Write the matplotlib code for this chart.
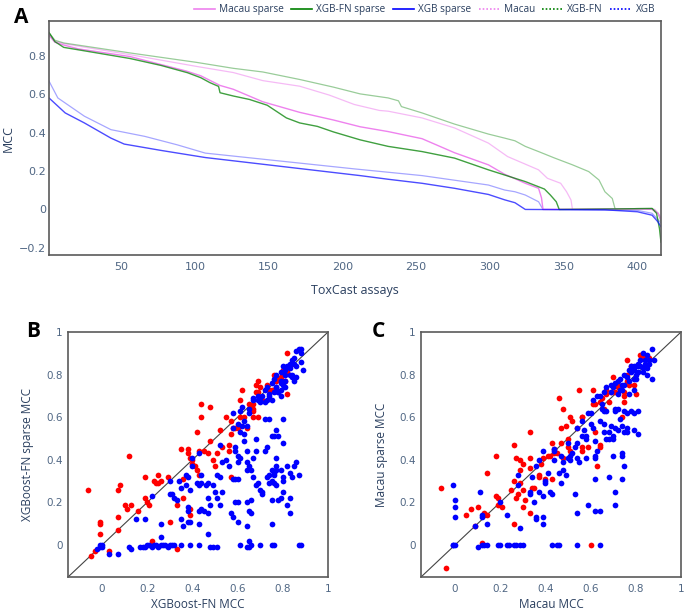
import matplotlib
matplotlib.use("Agg")
import matplotlib.pyplot as plt
from matplotlib.lines import Line2D

# ---- panel A: sorted MCC per assay (rank, value) ----
macau_sp_x = [1, 5, 11, 21, 56, 94, 104, 117, 126, 146, 171, 194, 212, 231, 254, 276, 299, 310, 317, 324, 333, 335, 336, 380, 405, 410, 414, 416]
macau_sp_y = [0.905, 0.87, 0.855, 0.835, 0.795, 0.72, 0.695, 0.645, 0.625, 0.56, 0.505, 0.465, 0.43, 0.405, 0.368, 0.295, 0.232, 0.183, 0.16, 0.136, 0.11, 0.06, 0.0, 0.002, 0.002, 0.0, -0.02, -0.05]

xgbfn_sp_x = [1, 5, 11, 32, 56, 77, 95, 104, 110, 116, 117, 126, 137, 149, 162, 171, 183, 194, 212, 231, 254, 276, 299, 317, 324, 337, 341, 345, 347, 400, 410, 413, 415, 416]
xgbfn_sp_y = [0.92, 0.873, 0.843, 0.816, 0.785, 0.749, 0.711, 0.685, 0.66, 0.64, 0.607, 0.59, 0.572, 0.542, 0.476, 0.45, 0.432, 0.403, 0.362, 0.328, 0.301, 0.267, 0.206, 0.162, 0.145, 0.106, 0.075, 0.04, 0.0, 0.004, 0.005, -0.02, -0.1, -0.17]

xgb_sp_x = [1, 12, 25, 43, 52, 77, 107, 212, 231, 254, 276, 299, 310, 317, 324, 378, 400, 410, 414, 416]
xgb_sp_y = [0.58, 0.502, 0.45, 0.371, 0.34, 0.307, 0.27, 0.176, 0.157, 0.136, 0.11, 0.078, 0.05, 0.035, 0.0, -0.002, -0.012, -0.03, -0.065, -0.09]

macau_x = [1, 5, 11, 56, 101, 126, 146, 171, 191, 208, 225, 231, 254, 276, 299, 312, 333, 339, 348, 352, 355, 356, 405, 412, 416]
macau_y = [0.91, 0.875, 0.862, 0.805, 0.744, 0.712, 0.67, 0.641, 0.595, 0.546, 0.515, 0.511, 0.476, 0.424, 0.345, 0.275, 0.206, 0.162, 0.136, 0.092, 0.049, 0.0, 0.003, 0.0, -0.04]

xgbfn_x = [1, 5, 11, 56, 101, 126, 146, 171, 194, 212, 231, 238, 240, 254, 276, 299, 310, 317, 324, 333, 344, 356, 367, 374, 378, 383, 385, 400, 410, 414, 416]
xgbfn_y = [0.92, 0.88, 0.866, 0.814, 0.765, 0.734, 0.715, 0.676, 0.636, 0.601, 0.58, 0.565, 0.535, 0.502, 0.444, 0.392, 0.371, 0.357, 0.328, 0.301, 0.267, 0.232, 0.197, 0.153, 0.092, 0.057, 0.0, 0.005, 0.005, -0.02, -0.06]

xgb_x = [1, 7, 25, 43, 66, 88, 107, 208, 254, 299, 310, 317, 324, 333, 336, 400, 410, 416]
xgb_y = [0.668, 0.58, 0.485, 0.415, 0.38, 0.336, 0.293, 0.211, 0.176, 0.127, 0.101, 0.092, 0.075, 0.04, 0.0, -0.005, -0.02, -0.07]

# ---- panel B: XGBoost-FN vs XGBoost-FN sparse ----
b_red_x = [-0.06, -0.01, -0.01, -0.01, -0.05, -0.03, 0.03, 0.07, 0.07, 0.07, 0.08, 0.10, 0.11, 0.13, 0.12, 0.16, 0.19, 0.19, 0.20, 0.21, 0.23, 0.24, 0.25, 0.26, 0.25, 0.22, 0.29, 0.30, 0.33, 0.33, 0.35, 0.36, 0.36, 0.38, 0.38, 0.39, 0.39, 0.39, 0.40, 0.40, 0.41, 0.42, 0.43, 0.42, 0.44, 0.44, 0.43, 0.45, 0.47, 0.48, 0.48, 0.49, 0.50, 0.51, 0.52, 0.53, 0.55, 0.56, 0.56, 0.57, 0.57, 0.57, 0.58, 0.59, 0.60, 0.61, 0.61, 0.63, 0.64, 0.62, 0.61, 0.65, 0.66, 0.67, 0.67, 0.67, 0.67, 0.69, 0.68, 0.69, 0.70, 0.69, 0.68, 0.71, 0.73, 0.74, 0.75, 0.77, 0.77, 0.80, 0.81, 0.80, 0.79, 0.82, 0.82, 0.83, 0.82, 0.78, 0.76]
b_red_y = [0.26, 0.10, 0.11, 0.05, -0.05, -0.03, -0.03, 0.07, 0.13, 0.26, 0.28, 0.19, 0.17, 0.19, 0.42, 0.16, 0.32, 0.22, 0.20, 0.19, 0.30, 0.29, 0.33, 0.30, 0.29, 0.02, 0.32, 0.11, 0.19, -0.02, 0.45, 0.31, 0.22, 0.45, 0.43, 0.14, 0.17, 0.41, 0.40, 0.38, 0.37, 0.35, 0.33, 0.53, 0.66, 0.60, 0.44, 0.44, 0.43, 0.65, 0.49, 0.40, 0.37, 0.43, 0.54, 0.46, 0.60, 0.47, 0.44, 0.52, 0.32, 0.58, 0.55, 0.55, 0.55, 0.56, 0.60, 0.60, 0.55, 0.73, 0.68, 0.66, 0.65, 0.63, 0.64, 0.66, 0.60, 0.60, 0.75, 0.72, 0.74, 0.77, 0.72, 0.68, 0.75, 0.73, 0.73, 0.73, 0.77, 0.82, 0.77, 0.77, 0.79, 0.90, 0.71, 0.84, 0.81, 0.78, 0.80]

b_blue_x = [-0.02, -0.01, 0.0, 0.0, -0.01, 0.03, 0.07, 0.15, 0.19, 0.12, 0.13,
            0.17, 0.18, 0.19, 0.20, 0.21, 0.22, 0.23, 0.24, 0.25, 0.26, 0.27, 0.28, 0.29, 0.30, 0.31, 0.32, 0.35, 0.39, 0.43, 0.48, 0.49, 0.51, 0.61, 0.64, 0.65, 0.70, 0.75, 0.87,
            0.22, 0.26, 0.26, 0.30, 0.31, 0.30, 0.32, 0.33, 0.34, 0.35, 0.35, 0.36, 0.37, 0.37, 0.38, 0.38, 0.39, 0.38, 0.38, 0.39, 0.40, 0.40, 0.43,
            0.42, 0.43, 0.44, 0.46, 0.47, 0.49, 0.43, 0.44, 0.45, 0.43, 0.47, 0.44, 0.47, 0.47, 0.48, 0.51, 0.52, 0.50, 0.51, 0.52, 0.52, 0.53, 0.53,
            0.56, 0.55, 0.57, 0.58, 0.60, 0.58, 0.59, 0.60, 0.59, 0.59, 0.60, 0.60, 0.61, 0.59, 0.60, 0.58, 0.60, 0.61, 0.62, 0.63, 0.64, 0.63, 0.63,
            0.64, 0.64, 0.65, 0.66, 0.64, 0.64, 0.65, 0.66, 0.66, 0.64, 0.65, 0.66, 0.67, 0.68, 0.68, 0.68, 0.67, 0.69, 0.70, 0.71, 0.71,
            0.72, 0.72, 0.73, 0.73, 0.74, 0.74, 0.75, 0.74, 0.75, 0.75, 0.75, 0.76, 0.76, 0.77, 0.75, 0.76, 0.77, 0.76, 0.77, 0.77, 0.78, 0.77, 0.78,
            0.79, 0.80, 0.80, 0.79, 0.80, 0.80, 0.80, 0.82, 0.83, 0.83, 0.84, 0.82, 0.83, 0.85, 0.86, 0.87, 0.88, 0.76,
            0.58, 0.61, 0.62, 0.65, 0.65, 0.67, 0.69, 0.70, 0.71, 0.72, 0.73, 0.74, 0.75, 0.75, 0.76, 0.77, 0.77, 0.78, 0.79, 0.79, 0.79, 0.80, 0.80,
            0.81, 0.81, 0.82, 0.83, 0.83, 0.83, 0.84, 0.85, 0.85, 0.86, 0.86, 0.87, 0.88, 0.88, 0.89, 0.88, 0.73, 0.74, 0.76, 0.77, 0.81, 0.84, 0.85,
            0.84, 0.86, 0.81, 0.79, 0.78, 0.79, 0.72, 0.70, 0.69, 0.67]
b_blue_y = [-0.02, 0.0, 0.0, -0.01, -0.01, -0.04, -0.04, 0.12, 0.12, -0.01, -0.02,
            -0.01, -0.01, -0.01, 0.0, 0.0, -0.01, 0.0, 0.0, -0.01, 0.0, 0.0, 0.0, -0.01, 0.0, 0.0, 0.0, 0.0, 0.0, 0.0, -0.01, -0.01, -0.01, 0.0, -0.01, -0.01, 0.0, 0.0, 0.0,
            0.23, 0.10, 0.04, 0.24, 0.24, 0.30, 0.22, 0.21, 0.30, 0.27, 0.12, 0.09, 0.33, 0.28, 0.32, 0.11, 0.11, 0.18, 0.16, 0.26, 0.37, 0.41, 0.43,
            0.29, 0.28, 0.29, 0.28, 0.29, 0.28, 0.16, 0.17, 0.16, 0.10, 0.15, 0.33, 0.05, 0.22, 0.19, 0.22, 0.19, 0.25, 0.33, 0.32, 0.47, 0.39, 0.25,
            0.37, 0.40, 0.15, 0.13, 0.11, 0.31, 0.31, 0.31, 0.46, 0.44, 0.42, 0.39, 0.41, 0.20, 0.20, 0.55, 0.57, 0.53, 0.56, 0.58, 0.56, 0.52, 0.49,
            0.44, 0.39, 0.37, 0.35, 0.35, 0.09, 0.02, 0.0, 0.21, 0.20, 0.16, 0.15, 0.32, 0.28, 0.50, 0.44, 0.41, 0.29, 0.26, 0.25, 0.24,
            0.59, 0.44, 0.46, 0.32, 0.33, 0.29, 0.30, 0.59, 0.51, 0.21, 0.10, 0.51, 0.00, 0.37, 0.35, 0.34, 0.35, 0.29, 0.28, 0.54, 0.51, 0.41, 0.21,
            0.22, 0.48, 0.59, 0.35, 0.32, 0.25, 0.30, 0.37, 0.34, 0.22, 0.32, 0.19, 0.15, 0.37, 0.39, 0.33, 0.00, 0.33,
            0.62, 0.63, 0.65, 0.62, 0.64, 0.69, 0.70, 0.68, 0.70, 0.73, 0.74, 0.71, 0.76, 0.68, 0.78, 0.74, 0.80, 0.72, 0.81, 0.77, 0.70, 0.84, 0.75,
            0.82, 0.80, 0.84, 0.83, 0.85, 0.80, 0.87, 0.85, 0.88, 0.84, 0.91, 0.92, 0.92, 0.86, 0.82, 0.90, 0.68, 0.70, 0.72, 0.74, 0.77, 0.80, 0.77,
            0.79, 0.79, 0.74, 0.73, 0.72, 0.76, 0.67, 0.67, 0.68, 0.68]

# ---- panel C: Macau vs Macau sparse ----
c_red_x = [-0.06, -0.04, 0.05, 0.07, 0.09, 0.10, 0.13, 0.13, 0.12, 0.14, 0.14, 0.18, 0.18, 0.19, 0.19, 0.21, 0.26, 0.27, 0.26, 0.25, 0.26, 0.27, 0.29, 0.30, 0.29, 0.29, 0.30, 0.30, 0.28, 0.31, 0.33, 0.33, 0.33, 0.33, 0.34, 0.35, 0.37, 0.37, 0.38, 0.39, 0.40, 0.41, 0.42, 0.43, 0.43, 0.44, 0.44, 0.45, 0.46, 0.47, 0.47, 0.48, 0.48, 0.49, 0.50, 0.50, 0.51, 0.51, 0.52, 0.54, 0.55, 0.56, 0.56, 0.56, 0.56, 0.59, 0.60, 0.61, 0.61, 0.62, 0.62, 0.63, 0.64, 0.64, 0.64, 0.65, 0.66, 0.67, 0.67, 0.68, 0.69, 0.70, 0.71, 0.72, 0.72, 0.74, 0.75, 0.75, 0.75, 0.76, 0.76, 0.76, 0.77, 0.78, 0.79, 0.80, 0.82, 0.83, 0.86]
c_red_y = [0.27, -0.11, 0.14, 0.17, 0.09, 0.18, 0.15, 0.14, 0.01, 0.14, 0.34, 0.42, 0.23, 0.19, 0.22, 0.18, 0.47, 0.41, 0.30, 0.26, 0.10, 0.22, 0.40, 0.38, 0.35, 0.29, 0.26, 0.18, 0.24, 0.21, 0.53, 0.41, 0.36, 0.15, 0.27, 0.27, 0.32, 0.33, 0.38, 0.41, 0.31, 0.42, 0.42, 0.31, 0.48, 0.43, 0.45, 0.43, 0.69, 0.55, 0.48, 0.41, 0.64, 0.56, 0.50, 0.46, 0.44, 0.60, 0.58, 0.55, 0.73, 0.60, 0.60, 0.46, 0.44, 0.46, 0.00, 0.66, 0.73, 0.66, 0.53, 0.37, 0.46, 0.47, 0.67, 0.69, 0.64, 0.73, 0.71, 0.67, 0.72, 0.79, 0.72, 0.75, 0.74, 0.60, 0.67, 0.70, 0.72, 0.77, 0.80, 0.87, 0.75, 0.84, 0.75, 0.71, 0.89, 0.88, 0.88]

c_blue_x = [-0.01, 0.0, 0.0, 0.0, -0.01, -0.01, 0.0, 0.09, 0.10, 0.11, 0.12, 0.12, 0.12, 0.13, 0.14, 0.14, 0.19, 0.20, 0.20, 0.23, 0.23, 0.24, 0.26, 0.27, 0.28, 0.28, 0.29, 0.29, 0.30,
            0.33, 0.33, 0.34, 0.35, 0.36, 0.36, 0.36, 0.37, 0.37, 0.39, 0.39, 0.39, 0.39, 0.40, 0.40, 0.41, 0.42, 0.43, 0.43, 0.44, 0.44, 0.44, 0.45, 0.46, 0.47, 0.46, 0.47, 0.48, 0.48, 0.49, 0.50, 0.50,
            0.51, 0.51, 0.52, 0.53, 0.53, 0.54, 0.54, 0.54, 0.54, 0.54, 0.55, 0.56, 0.56, 0.57, 0.58, 0.58, 0.59, 0.58, 0.59,
            0.60, 0.60, 0.61, 0.62, 0.62, 0.62, 0.63, 0.62, 0.62, 0.64, 0.64, 0.64, 0.65,
            0.65, 0.66, 0.66, 0.66, 0.67, 0.67, 0.68, 0.68, 0.68, 0.69, 0.70, 0.70, 0.70, 0.71, 0.71, 0.71, 0.71,
            0.71, 0.72, 0.72, 0.73, 0.74, 0.74, 0.74, 0.74, 0.75, 0.75, 0.75, 0.76, 0.76, 0.76, 0.78, 0.79, 0.79, 0.81, 0.81,
            0.61, 0.63, 0.64, 0.66, 0.67, 0.69, 0.69, 0.70, 0.71, 0.72, 0.72, 0.73, 0.73, 0.74, 0.74, 0.75, 0.75, 0.76, 0.77, 0.77, 0.78, 0.78, 0.79, 0.79,
            0.79, 0.80, 0.80, 0.81, 0.81, 0.81, 0.82, 0.82, 0.83, 0.83, 0.83, 0.84, 0.84, 0.85, 0.85, 0.85, 0.86, 0.86, 0.87, 0.88, 0.87, 0.79, 0.77, 0.80]
c_blue_y = [0.28, 0.21, 0.18, 0.13, 0.0, 0.0, 0.0, 0.09, -0.01, 0.25, 0.14, 0.13, 0.0, 0.0, 0.10, 0.0, 0.0, 0.20, 0.0, 0.14, 0.0, 0.0, 0.0, 0.0, 0.28, 0.33, 0.08, 0.0, 0.0,
            0.25, 0.24, 0.32, 0.20, 0.37, 0.13, 0.12, 0.40, 0.25, 0.44, 0.23, 0.10, 0.13, 0.30, 0.29, 0.34, 0.25, 0.00, 0.24, 0.45, 0.40, 0.44, 0.00, 0.00, 0.42, 0.34, 0.29, 0.39, 0.35, 0.33, 0.48, 0.41,
            0.40, 0.42, 0.43, 0.24, 0.46, 0.55, 0.15, 0.00, 0.48, 0.41, 0.39, 0.58, 0.51, 0.54, 0.51, 0.41, 0.19, 0.50, 0.62,
            0.62, 0.57, 0.55, 0.16, 0.49, 0.42, 0.44, 0.41, 0.31, 0.16, 0.00, 0.58, 0.64,
            0.66, 0.63, 0.57, 0.53, 0.50, 0.63, 0.32, 0.50, 0.53, 0.56, 0.51, 0.42, 0.50, 0.25, 0.19, 0.64, 0.63,
            0.55, 0.64, 0.54, 0.59, 0.31, 0.43, 0.56, 0.42, 0.53, 0.37, 0.63, 0.55, 0.53, 0.62, 0.63, 0.62, 0.54, 0.52, 0.63,
            0.68, 0.70, 0.70, 0.72, 0.74, 0.75, 0.72, 0.74, 0.76, 0.77, 0.71, 0.78, 0.73, 0.73, 0.75, 0.80, 0.75, 0.79, 0.82, 0.77, 0.84, 0.81, 0.78, 0.84,
            0.82, 0.80, 0.84, 0.85, 0.81, 0.84, 0.87, 0.84, 0.81, 0.90, 0.83, 0.87, 0.85, 0.80, 0.89, 0.83, 0.87, 0.85, 0.92, 0.87, 0.78, 0.73, 0.71, 0.78]

tick_col = "#506784"
title_col = "#2a3f5f"
frame_col = "#5a5a5a"
legend_labels = ["Macau sparse", "XGB-FN sparse", "XGB sparse", "Macau", "XGB-FN", "XGB"]
legend_cols = ["violet", "green", "blue", "violet", "green", "blue"]

plt.rcParams["font.family"] = ["Open Sans", "DejaVu Sans"]

fig = plt.figure(figsize=(6.85, 6.13), dpi=100)


def style_frame(ax, tick_size):
    for sp in ax.spines.values():
        sp.set_color(frame_col)
        sp.set_linewidth(1.2)
    ax.tick_params(length=0, labelcolor=tick_col, labelsize=tick_size)
    for lab in ax.get_xticklabels() + ax.get_yticklabels():
        lab.set_family("DejaVu Sans")


def place_labels(ax, xy_x, xy_y):
    # centre the axis titles on the given axes-fraction points
    ax.xaxis.label.set_va("center")
    ax.yaxis.label.set_va("center")
    ax.xaxis.set_label_coords(*xy_x)
    ax.yaxis.set_label_coords(*xy_y)


# panel A
axA = fig.add_axes([0.0715, 0.584, 0.8934, 0.3817])
axA.plot(macau_x, macau_y, color="violet", lw=0.9, alpha=0.55)
axA.plot(xgbfn_x, xgbfn_y, color="green", lw=0.9, alpha=0.4)
axA.plot(xgb_x, xgb_y, color="blue", lw=0.9, alpha=0.35)
axA.plot(macau_sp_x, macau_sp_y, color="violet", lw=1.0)
axA.plot(xgbfn_sp_x, xgbfn_sp_y, color="green", lw=1.0, alpha=0.75)
axA.plot(xgb_sp_x, xgb_sp_y, color="blue", lw=1.0, alpha=0.7)
axA.set_xlim(1, 416)
axA.set_ylim(-0.237, 0.98)
axA.set_xticks([50, 100, 150, 200, 250, 300, 350, 400])
axA.set_yticks([-0.2, 0, 0.2, 0.4, 0.6, 0.8])
axA.set_yticklabels(["\u22120.2", "0", "0.2", "0.4", "0.6", "0.8"])
style_frame(axA, 8)
axA.tick_params(axis="x", pad=5)
axA.tick_params(axis="y", pad=2)
axA.set_xlabel("ToxCast assays", fontsize=9, color=title_col)
axA.set_ylabel("MCC", fontsize=9, color=title_col)
place_labels(axA, (0.5, -0.15), (-0.066, 0.5))

handles = []
for i, (lab, col) in enumerate(zip(legend_labels, legend_cols)):
    if i < 3:
        handles.append(Line2D([], [], color=col, lw=1.2))
    else:
        handles.append(Line2D([], [], color=col, lw=1.2, ls=(0, (1, 1.2))))
fig.legend(handles, legend_labels, loc="center right", bbox_to_anchor=(0.962, 0.984),
           ncol=6, frameon=False, fontsize=7.2, handlelength=2.1, handletextpad=0.4,
           columnspacing=0.75, labelcolor=title_col, borderaxespad=0)


def scatter_panel(rect, rx, ry, bx, by, xlab, ylab, ylab_x):
    ax = fig.add_axes(rect)
    ax.plot([-0.15, 1], [-0.15, 1], color="#444444", lw=0.8, zorder=1)
    ax.scatter(rx, ry, s=17, color="#ff0000", linewidths=0, zorder=2)
    ax.scatter(bx, by, s=17, color="#0000ff", linewidths=0, zorder=3)
    ax.set_xlim(-0.15, 1)
    ax.set_ylim(-0.15, 1)
    ticks = [0, 0.2, 0.4, 0.6, 0.8, 1]
    tlabs = ["0", "0.2", "0.4", "0.6", "0.8", "1"]
    ax.set_xticks(ticks)
    ax.set_xticklabels(tlabs)
    ax.set_yticks(ticks)
    ax.set_yticklabels(tlabs)
    style_frame(ax, 7.5)
    ax.tick_params(axis="x", pad=5)
    ax.tick_params(axis="y", pad=4)
    ax.set_xlabel(xlab, fontsize=8.5, color=title_col)
    ax.set_ylabel(ylab, fontsize=8.5, color=title_col)
    place_labels(ax, (0.5, -0.114), (ylab_x, 0.5))
    return ax


scatter_panel([0.0993, 0.0587, 0.3796, 0.3997], b_red_x, b_red_y, b_blue_x, b_blue_y,
              "XGBoost-FN MCC", "XGBoost-FN sparse MCC", -0.154)
scatter_panel([0.6146, 0.0587, 0.3796, 0.3997], c_red_x, c_red_y, c_blue_x, c_blue_y,
              "Macau MCC", "Macau sparse MCC", -0.15)

fig.text(0.021, 0.963, "A", fontsize=15, fontweight="bold", va="baseline")
fig.text(0.038, 0.451, "B", fontsize=15, fontweight="bold", va="baseline")
fig.text(0.543, 0.451, "C", fontsize=15, fontweight="bold", va="baseline")

fig.savefig("out.png", dpi=100)
